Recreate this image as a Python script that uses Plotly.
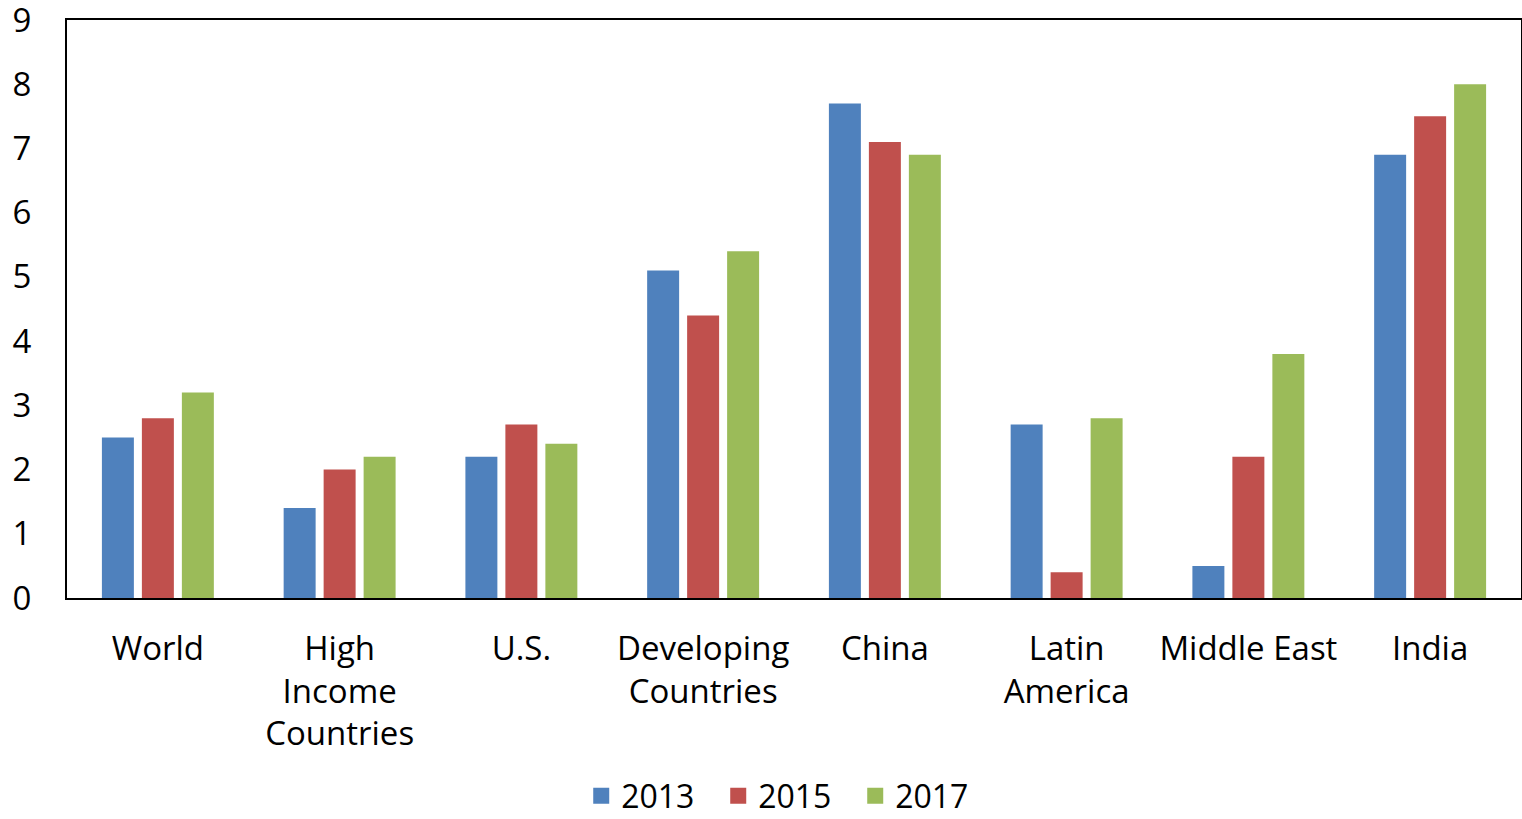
import plotly.graph_objects as go

categories = ["World", "High<br>Income<br>Countries", "U.S.", "Developing<br>Countries",
              "China", "Latin<br>America", "Middle East", "India"]
v2013 = [2.5, 1.4, 2.2, 5.1, 7.7, 2.7, 0.5, 6.9]
v2015 = [2.8, 2.0, 2.7, 4.4, 7.1, 0.4, 2.2, 7.5]
v2017 = [3.2, 2.2, 2.4, 5.4, 6.9, 2.8, 3.8, 8.0]
series_names = ["2013", "2015", "2017"]
colors = ["#4F81BD", "#C0504D", "#9BBB59"]

FONT = "Open Sans"

fig = go.Figure()
for name, vals, c in zip(series_names, [v2013, v2015, v2017], colors):
    fig.add_trace(go.Bar(x=categories, y=vals, name=name, showlegend=False,
                         marker=dict(color=c, line=dict(width=0))))
# legend entries with larger square swatches
for name, c in zip(series_names, colors):
    fig.add_trace(go.Scatter(x=[None], y=[None], mode="markers", name=name,
                             marker=dict(symbol="square", size=16, color=c)))

fig.update_layout(
    width=1522, height=819,
    margin=dict(l=67, r=1, t=20, b=221, autoexpand=False),
    paper_bgcolor="white", plot_bgcolor="white",
    barmode="group", bargap=0.34, bargroupgap=0.2,
    font=dict(family=FONT, size=33, color="black"),
    legend=dict(orientation="h", x=0.495, xanchor="center",
                yref="container", y=0.028, yanchor="middle",
                font=dict(size=32), itemwidth=30, traceorder="normal",
                entrywidth=92, entrywidthmode="pixels"),
    showlegend=True,
)
fig.update_xaxes(showline=True, linecolor="black", linewidth=2, mirror=True,
                 ticks="", tickfont=dict(size=33), ticklabelstandoff=20,
                 automargin=False)
fig.update_yaxes(range=[0, 9], dtick=1, showgrid=False, zeroline=False,
                 showline=True, linecolor="black", linewidth=2, mirror=True,
                 ticks="", tickfont=dict(size=33), ticklabelstandoff=27,
                 ticklabeloverflow="allow", automargin=False)

fig.write_html("out.html")
